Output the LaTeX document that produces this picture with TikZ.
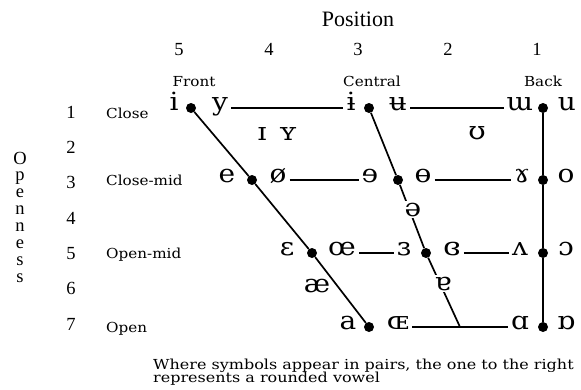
\documentclass[tikz,border=0pt]{standalone}
\usepackage{fontspec}
\setmainfont{Liberation Serif}
\newfontfamily\ipafont[FakeStretch=1.12]{DejaVu Serif}
\newfontfamily\lblfont[FakeStretch=1.1]{DejaVu Serif}
\newfontfamily\notefont[FakeStretch=1.16]{DejaVu Serif}

\begin{document}
\begin{tikzpicture}[x=1pt,y=-1pt,
  ipa/.style={font=\ipafont\fontsize{25}{27}\selectfont, inner sep=3pt, anchor=mid},
  ipacut/.style={ipa, fill=white, inner sep=1.5pt},
  dot/.style={circle, fill=black, inner sep=0pt, minimum size=10pt},
  axisline/.style={line width=1.7pt},
  rowline/.style={line width=1.1pt},
  lbl/.style={font=\lblfont\fontsize{13.8}{16}\selectfont, inner sep=0pt, anchor=base west},
  hdr/.style={font=\lblfont\fontsize{13.8}{16}\selectfont, inner sep=0pt, anchor=base},
  num/.style={font=\fontsize{18.5}{20}\selectfont, inner sep=0pt, anchor=base},
  note/.style={font=\notefont\fontsize{13.8}{15}\selectfont, inner sep=0pt, anchor=base west},
]
\useasboundingbox (0,0) rectangle (581,389);

% headings
\node[font=\fontsize{22}{24}\selectfont, inner sep=0pt, anchor=base] (pos) at (358,26) {Position};
\node[num] (p5) at (179,55) {5};
\node[num] (p4) at (269,55) {4};
\node[num] (p3) at (358,55) {3};
\node[num] (p2) at (448,55) {2};
\node[num] (p1) at (537,55) {1};
\node[hdr] (front) at (194,86) {Front};
\node[hdr] (central) at (372,86) {Central};
\node[hdr] (back) at (543,86) {Back};

% openness scale
\foreach \c [count=\k from 0] in {O,p,e,n,n,e,s,s}
  \node[font=\fontsize{18.5}{20}\selectfont, inner sep=0pt, anchor=base] (open\k) at (20,164+16.9*\k) {\c};
\node[num] (o1) at (71,118) {1};
\node[num] (o2) at (71,153) {2};
\node[num] (o3) at (71,188) {3};
\node[num] (o4) at (71,224) {4};
\node[num] (o5) at (71,259) {5};
\node[num] (o6) at (71,294) {6};
\node[num] (o7) at (71,330) {7};
\node[lbl] (close) at (106,118) {Close};
\node[lbl] (closemid) at (106,185) {Close-mid};
\node[lbl] (openmid) at (106,258) {Open-mid};
\node[lbl] (open) at (106,332) {Open};

% dots on the chart frame
\node[dot] (d1F) at (191,108) {};
\node[dot] (d3F) at (252,180) {};
\node[dot] (d5F) at (312,253) {};
\node[dot] (d7F) at (369,327) {};
\node[dot] (d1C) at (369,108) {};
\node[dot] (d3C) at (398,180) {};
\node[dot] (d5C) at (426,253) {};
\node[dot] (d1B) at (543,108) {};
\node[dot] (d3B) at (543,180) {};
\node[dot] (d5B) at (543,253) {};
\node[dot] (d7B) at (543,327) {};
\coordinate (cb) at (460,327);

% vowel symbols
\node[ipa] (iF) at (174,108) {i};
\node[ipa] (yF) at (220,108) {y};
\node[ipa] (iC) at (351,108) {ɨ};
\node[ipa] (uC) at (398,108) {ʉ};
\node[ipa] (mB) at (520,108) {ɯ};
\node[ipa] (uB) at (567,108) {u};
\node[ipa] (IF) at (262,138) {ɪ};
\node[ipa] (YF) at (288,138) {ʏ};
\node[ipa] (UB) at (477,137) {ʊ};
\node[ipa] (eF) at (227,180) {e};
\node[ipa] (oF) at (278,180) {ø};
\node[ipa] (eC) at (370,180) {ɘ};
\node[ipa] (oC) at (423,180) {ɵ};
\node[ipa] (gB) at (522,180) {ɤ};
\node[ipa] (oB) at (566,180) {o};
\node[ipa] (epsF) at (287,253) {ɛ};
\node[ipa] (oeF) at (342,253) {œ};
\node[ipa] (epsC) at (404,253) {ɜ};
\node[ipa] (clC) at (452,253) {ɞ};
\node[ipa] (vB) at (520,253) {ʌ};
\node[ipa] (cB) at (566,253) {ɔ};
\node[ipa] (aeF) at (317,290) {æ};
\node[ipa] (aF) at (348,327) {a};
\node[ipa] (OEF) at (398,327) {ɶ};
\node[ipa] (alB) at (520,327) {ɑ};
\node[ipa] (opB) at (566,327) {ɒ};

% frame lines
\draw[axisline] (d1F) -- (d3F) -- (d5F) -- (d7F);
\draw[axisline] (d1C) -- (d3C) -- (d5C) -- (cb);
\draw[axisline] (d1B) -- (d3B) -- (d5B) -- (d7B);

% row lines
\draw[rowline] (yF.mid east) -- (iC.mid west);
\draw[rowline] (uC.mid east) -- (mB.mid west);
\draw[rowline] (oF.mid east) -- (eC.mid west);
\draw[rowline] (oC.mid east) -- (gB.mid west);
\draw[rowline] (oeF.mid east) -- (epsC.mid west);
\draw[rowline] (clC.mid east) -- (vB.mid west);
\draw[rowline] (OEF.mid east) -- (alB.mid west);

% symbols sitting on the central line
\node[ipacut] (schwa) at (413,214) {ə};
\node[ipacut] (turna) at (443,288) {ɐ};

% footnote
\node[note] (note1) at (153,369) {Where symbols appear in pairs, the one to the right};
\node[note] (note2) at (153,382) {represents a rounded vowel};
\end{tikzpicture}
\end{document}
